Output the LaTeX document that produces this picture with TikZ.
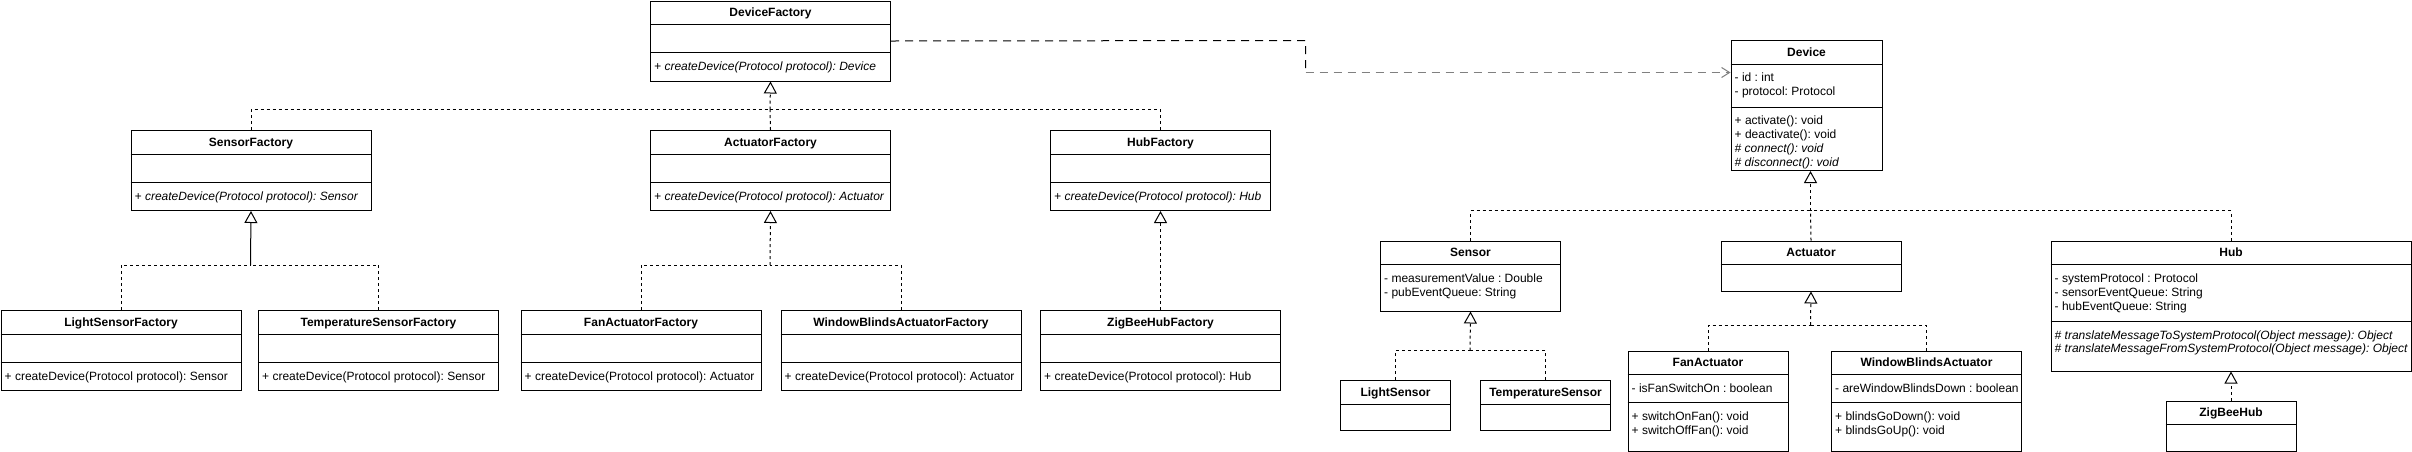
\documentclass[tikz,border=0pt]{standalone}
\usepackage{fontspec}
\setmainfont{Liberation Sans}
\usetikzlibrary{arrows.meta,calc}
\definecolor{depgray}{RGB}{128,128,128}
\frenchspacing
\newcommand\umlbox[6]{%
  \node[cls, minimum width=#4pt, minimum height=#5pt] (#1) at (#2,#3) {};
  \node[ttl] (#1-t) at ($(#1.north)+(0,16.3)$) {#6};
  \draw[sepl] ($(#1.north west)+(0,24)$) -- ($(#1.north east)+(0,24)$);
}
\newcommand\umlsep[2]{\draw[sepl] ($(#1.north west)+(0,#2)$) -- ($(#1.north east)+(0,#2)$);}
\newcommand\umlline[5]{\node[#4] (#1-#2) at ($(#1.north west)+(4,{#3+4.3})$) {#5};}
\begin{document}
\begin{tikzpicture}[x=1pt,y=-1pt,
  cls/.style={draw, line width=1pt, anchor=north west, inner sep=0pt, fill=white},
  ttl/.style={font=\fontsize{12}{14}\selectfont\bfseries, anchor=base, inner sep=0pt},
  txt/.style={font=\fontsize{12}{14}\selectfont, anchor=base west, inner sep=0pt},
  itxt/.style={font=\fontsize{12}{14}\selectfont\itshape, anchor=base west, inner sep=0pt},
  sepl/.style={line width=1pt},
  real/.style={line width=1pt, dash pattern=on 3pt off 3pt},
  realtip/.style={real, -{Triangle[open, length=12pt, width=13pt, line width=1pt]}},
  solidtip/.style={line width=1pt, -{Triangle[open, length=12pt, width=13pt, line width=1pt]}},
  dep/.style={line width=1pt, dash pattern=on 8pt off 6pt}
]
\path[fill=white] (0,0) rectangle (2412,451);
\useasboundingbox (0,0) rectangle (2412,451);

% ---------- factories ----------
\umlbox{DF}{650}{0.5}{240}{80}{DeviceFactory}
\umlsep{DF}{52}
\umlline{DF}{m1}{66}{itxt}{+ createDevice(Protocol protocol): Device}

\umlbox{SF}{130.5}{130}{240}{80}{SensorFactory}
\umlsep{SF}{52}
\umlline{SF}{m1}{66}{itxt}{+ createDevice(Protocol protocol): Sensor}

\umlbox{AF}{650}{130}{240}{80}{ActuatorFactory}
\umlsep{AF}{52}
\umlline{AF}{m1}{66}{itxt}{+ createDevice(Protocol protocol): Actuator}

\umlbox{HF}{1050}{130}{220}{80}{HubFactory}
\umlsep{HF}{52}
\umlline{HF}{m1}{66}{itxt}{+ createDevice(Protocol protocol): Hub}

\umlbox{LSF}{0.5}{310}{240}{80}{LightSensorFactory}
\umlsep{LSF}{52}
\umlline{LSF}{m1}{66}{txt}{+ createDevice(Protocol protocol): Sensor}

\umlbox{TSF}{258}{310}{240}{80}{TemperatureSensorFactory}
\umlsep{TSF}{52}
\umlline{TSF}{m1}{66}{txt}{+ createDevice(Protocol protocol): Sensor}

\umlbox{FAF}{520.5}{310}{240}{80}{FanActuatorFactory}
\umlsep{FAF}{52}
\umlline{FAF}{m1}{66}{txt}{+ createDevice(Protocol protocol): Actuator}

\umlbox{WAF}{780.5}{310}{240}{80}{WindowBlindsActuatorFactory}
\umlsep{WAF}{52}
\umlline{WAF}{m1}{66}{txt}{+ createDevice(Protocol protocol): Actuator}

\umlbox{ZHF}{1040}{310}{240}{80}{ZigBeeHubFactory}
\umlsep{ZHF}{52}
\umlline{ZHF}{m1}{66}{txt}{+ createDevice(Protocol protocol): Hub}

% ---------- devices ----------
\umlbox{Dev}{1730.5}{40}{151}{130}{Device}
\umlsep{Dev}{67.5}
\umlline{Dev}{a1}{37.5}{txt}{- id : int}
\umlline{Dev}{a2}{51.5}{txt}{- protocol: Protocol}
\umlline{Dev}{m1}{80}{txt}{+ activate(): void}
\umlline{Dev}{m2}{94}{txt}{+ deactivate(): void}
\umlline{Dev}{m3}{108}{itxt}{\# connect(): void}
\umlline{Dev}{m4}{122}{itxt}{\# disconnect(): void}

\umlbox{Sen}{1380}{240.5}{180}{70}{Sensor}
\umlline{Sen}{a1}{37.5}{txt}{- measurementValue : Double}
\umlline{Sen}{a2}{52}{txt}{- pubEventQueue: String}

\umlbox{Act}{1720.5}{240.5}{180}{50}{Actuator}

\umlbox{Hub}{2050.5}{240.5}{360}{130}{Hub}
\umlsep{Hub}{80.5}
\umlline{Hub}{a1}{38}{txt}{- systemProtocol : Protocol}
\umlline{Hub}{a2}{52}{txt}{- sensorEventQueue: String}
\umlline{Hub}{a3}{66}{txt}{- hubEventQueue: String}
\umlline{Hub}{m1}{94.5}{itxt}{\# translateMessageToSystemProtocol(Object message): Object}
\umlline{Hub}{m2}{108}{itxt}{\# translateMessageFromSystemProtocol(Object message): Object}

\umlbox{LS}{1340}{380}{110}{50}{LightSensor}
\umlbox{TS}{1480}{380}{130}{50}{TemperatureSensor}

\umlbox{FA}{1627.5}{350.5}{160}{100}{FanActuator}
\umlsep{FA}{52}
\umlline{FA}{a1}{38}{txt}{- isFanSwitchOn : boolean}
\umlline{FA}{m1}{65.5}{txt}{+ switchOnFan(): void}
\umlline{FA}{m2}{79.5}{txt}{+ switchOffFan(): void}

\umlbox{WA}{1831}{350.5}{190}{100}{WindowBlindsActuator}
\umlsep{WA}{52}
\umlline{WA}{a1}{38}{txt}{- areWindowBlindsDown : boolean}
\umlline{WA}{m1}{65.5}{txt}{+ blindsGoDown(): void}
\umlline{WA}{m2}{79.5}{txt}{+ blindsGoUp(): void}

\umlbox{ZH}{2165.5}{400.5}{130}{50}{ZigBeeHub}

% ---------- realization connectors ----------
\coordinate (DFj) at (770,109.5);
\draw[realtip] (DFj) -- (DF.south);
\draw[real] (SF.north) |- (DFj);
\draw[real] (AF.north) -- (DFj);
\draw[real] (HF.north) |- (DFj);

\coordinate (SFj) at (250.5,265);
\draw[solidtip] (SFj) -- (SF.south);
\draw[real] (LSF.north) |- (SFj);
\draw[real] (TSF.north) |- (SFj);

\coordinate (AFj) at (770,265);
\draw[realtip] (AFj) -- (AF.south);
\draw[real] (FAF.north) |- (AFj);
\draw[real] (WAF.north) |- (AFj);

\draw[realtip] (ZHF.north) -- (HF.south);

\coordinate (Devj) at (1810.5,210.5);
\draw[realtip] (Devj) -- (Dev.south -| Devj);
\draw[real] (Sen.north) |- (Devj);
\draw[real] (Act.north) -- (Devj);
\draw[real] (Hub.north) |- (Devj);

\coordinate (Senj) at (1470,350.5);
\draw[realtip] (Senj) -- (Sen.south);
\draw[real] (LS.north) |- (Senj);
\draw[real] (TS.north) |- (Senj);

\coordinate (Actj) at (1810.5,325);
\draw[realtip] (Actj) -- (Act.south);
\draw[real] (FA.north) |- (Actj);
\draw[real] (WA.north) |- (Actj);

\draw[realtip] (ZH.north) -- (Hub.south);

% ---------- dependency ----------
\coordinate (dep1) at (1305.5,40.5);
\coordinate (dep2) at (1305.5,72.5);
\draw[dep] (DF.east) -- (dep1) -- (dep2);
\draw[dep, depgray, -{Straight Barb[length=8pt, width=10pt, line width=1pt]}] (dep2) -- (Dev.west |- dep2);
\end{tikzpicture}
\end{document}
